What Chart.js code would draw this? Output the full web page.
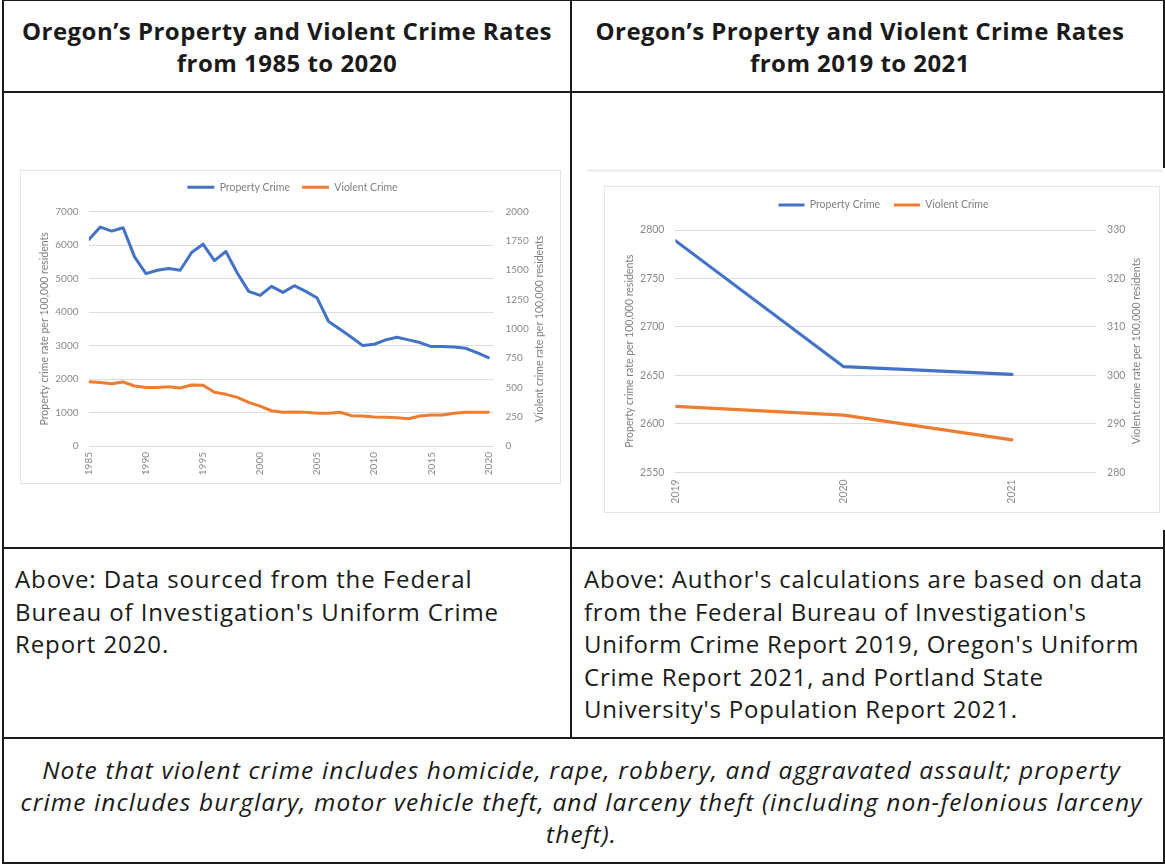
<!DOCTYPE html>
<html>
<head>
<meta charset="utf-8">
<script src="https://cdn.jsdelivr.net/npm/chart.js@4.4.1/dist/chart.umd.min.js"></script>
<style>
  html, body { margin: 0; padding: 0; background: #ffffff; }
  #page { position: relative; width: 1165px; height: 865px; overflow: hidden; background: #fff; }
  .ln { position: absolute; background: #1c1c1c; }
  .txt { position: absolute; color: #1a1a1a; font-family: "Open Sans", "Noto Sans", sans-serif; white-space: nowrap; }
  .hdr { font-weight: 700; font-size: 22px; line-height: 32px; text-align: center; }
  .cap { font-size: 22px; line-height: 32.5px; text-align: left; }
  .note { font-style: italic; font-size: 22px; line-height: 32px; text-align: center; }
  .frame { position: absolute; border: 1px solid #e4e4e4; box-sizing: border-box; background: #fff; }
  canvas { position: absolute; }
</style>
</head>
<body>
<div id="page">
  <!-- table grid -->
  <div class="ln" style="left:2px;top:0;width:1163px;height:1px;"></div>
  <div class="ln" style="left:2px;top:0;width:2px;height:864px;"></div>
  <div class="ln" style="left:1163px;top:0;width:2px;height:864px;"></div>
  <div class="ln" style="left:570px;top:0;width:2px;height:739px;"></div>
  <div class="ln" style="left:2px;top:91px;width:1163px;height:2px;"></div>
  <div class="ln" style="left:2px;top:547px;width:1163px;height:2px;"></div>
  <div class="ln" style="left:2px;top:737px;width:1163px;height:2px;"></div>
  <div class="ln" style="left:2px;top:862px;width:1163px;height:2px;"></div>

  <!-- headers -->
  <div class="txt hdr" id="h1" data-target="530" style="left:4px;width:566px;top:14.5px;"><span>Oregon’s Property and Violent Crime Rates</span><br><span>from 1985 to 2020</span></div>
  <div class="txt hdr" id="h2" data-target="529" style="left:572px;width:576px;top:14.5px;"><span>Oregon’s Property and Violent Crime Rates</span><br><span>from 2019 to 2021</span></div>

  <!-- chart images -->
  <div class="frame" style="left:20px;top:170px;width:541px;height:314px;"></div>
  <canvas id="c1" width="541" height="314" style="left:20px;top:170px;"></canvas>

  <div style="position:absolute;left:1160px;top:168px;width:5px;height:362px;background:#fff;"></div>
  <div style="position:absolute;left:587px;top:169px;width:576px;height:3px;background:#efefef;"></div>
  <div class="frame" style="left:604px;top:186px;width:556px;height:327px;"></div>
  <canvas id="c2" width="556" height="327" style="left:604px;top:186px;"></canvas>

  <!-- captions -->
  <div class="txt cap" id="cap1" data-target="484" style="left:15px;top:563px;"><span>Above: Data sourced from the Federal</span><br><span>Bureau of Investigation's Uniform Crime</span><br><span>Report 2020.</span></div>
  <div class="txt cap" id="cap2" data-target="559" style="left:584px;top:563px;"><span>Above: Author's calculations are based on data</span><br><span>from the Federal Bureau of Investigation's</span><br><span>Uniform Crime Report 2019, Oregon's Uniform</span><br><span>Crime Report 2021, and Portland State</span><br><span>University's Population Report 2021.</span></div>

  <!-- note -->
  <div class="txt note" id="note" data-target="1122" style="left:4px;width:1155px;top:754px;"><span>Note that violent crime includes homicide, rape, robbery, and aggravated assault; property</span><br><span>crime includes burglary, motor vehicle theft, and larceny theft (including non-felonious larceny</span><br><span>theft).</span></div>
</div>

<script>
// ---------------- data ----------------
const seriesNames = ['Property Crime', 'Violent Crime'];
const propertyAxisTitle = 'Property crime rate per 100,000 residents';
const violentAxisTitle = 'Violent crime rate per 100,000 residents';

// Chart 1: 1985 - 2020
const longYears = [1985, 1986, 1987, 1988, 1989, 1990, 1991, 1992, 1993, 1994,
                   1995, 1996, 1997, 1998, 1999, 2000, 2001, 2002, 2003, 2004,
                   2005, 2006, 2007, 2008, 2009, 2010, 2011, 2012, 2013, 2014,
                   2015, 2016, 2017, 2018, 2019, 2020];
const longProperty = [6170, 6540, 6420, 6520, 5650, 5150, 5250, 5300, 5250, 5780,
                      6030, 5540, 5810, 5170, 4620, 4500, 4770, 4590, 4790, 4620,
                      4420, 3720, 3490, 3250, 3000, 3040, 3170, 3250, 3170, 3090,
                      2970, 2970, 2960, 2920, 2790, 2640];
const longViolent = [549, 543, 532, 546, 512, 500, 500, 506, 495, 521,
                     518, 458, 441, 415, 373, 341, 301, 288, 290, 288,
                     279, 279, 288, 259, 256, 248, 245, 242, 233, 256,
                     265, 265, 279, 288, 288, 288];
const longYearTicks = [1985, 1990, 1995, 2000, 2005, 2010, 2015, 2020];
const longPropertyTicks = [0, 1000, 2000, 3000, 4000, 5000, 6000, 7000];
const longViolentTicks = [0, 250, 500, 750, 1000, 1250, 1500, 1750, 2000];

// Chart 2: 2019 - 2021
const shortYears = [2019, 2020, 2021];
const shortProperty = [2789, 2659, 2651];
const shortViolent = [293.6, 291.8, 286.7];
const shortYearTicks = [2019, 2020, 2021];
const shortPropertyTicks = [2550, 2600, 2650, 2700, 2750, 2800];
const shortViolentTicks = [280, 290, 300, 310, 320, 330];

// ---------------- styling ----------------
const BLUE = '#4472C4';
const ORANGE = '#ED7D31';
const FONT = 'Lato, "Open Sans", sans-serif';
const TICK_COLOR = '#8a8a8a';
const TITLE_COLOR = '#7f7f7f';
const GRID_COLOR = '#dddddd';

const rightTitlePlugin = {
  id: 'rightTitle',
  afterDraw(chart, args, opts) {
    const s = chart.scales.y2;
    const ctx = chart.ctx;
    ctx.save();
    ctx.font = opts.size + 'px ' + FONT;
    ctx.fillStyle = TITLE_COLOR;
    ctx.textAlign = 'center';
    ctx.textBaseline = 'middle';
    ctx.translate(s.left + opts.offset, (s.top + s.bottom) / 2);
    ctx.rotate(-Math.PI / 2);
    ctx.fillText(opts.text, 0, 0);
    ctx.restore();
  }
};

function toPoints(xs, ys) { return xs.map((x, i) => ({ x: x, y: ys[i] })); }
function fixedTicks(list) { return (s) => { s.ticks = list.map(v => ({ value: v })); }; }

function buildChart(id, d, g) {
  return new Chart(document.getElementById(id), {
    type: 'line',
    data: {
      datasets: [
        { label: seriesNames[0], data: toPoints(d.years, d.property), yAxisID: 'y',
          borderColor: BLUE, backgroundColor: BLUE, borderWidth: g.lw, pointRadius: 0, tension: 0,
          borderCapStyle: 'round', borderJoinStyle: 'round' },
        { label: seriesNames[1], data: toPoints(d.years, d.violent), yAxisID: 'y2',
          borderColor: ORANGE, backgroundColor: ORANGE, borderWidth: g.lw, pointRadius: 0, tension: 0,
          borderCapStyle: 'round', borderJoinStyle: 'round' }
      ]
    },
    options: {
      responsive: false, animation: false, devicePixelRatio: 1,
      layout: { padding: { left: g.pl, right: g.pr, top: 0, bottom: 0 } },
      plugins: {
        legend: {
          position: 'top', weight: 1000,
          labels: { usePointStyle: true, pointStyle: 'line', pointStyleWidth: g.legendLine,
                    padding: g.legendPad, color: TITLE_COLOR, font: { family: FONT, size: g.legendSize } }
        },
        // empty spacer box between the legend and the plot area
        title: { display: true, text: '', position: 'top', weight: 500, padding: 0,
                 font: { size: g.gap, lineHeight: 1 } },
        tooltip: { enabled: false },
        rightTitle: { text: violentAxisTitle, offset: g.rTitleOffset, size: g.titleSize }
      },
      scales: {
        x: {
          type: 'linear', bounds: 'data', min: d.xMin, max: g.xMax,
          afterBuildTicks: fixedTicks(d.xTicks),
          afterFit: (s) => { s.height = g.xHeight; },
          grid: { display: false, drawTicks: false }, border: { display: false },
          ticks: { autoSkip: false, minRotation: 90, maxRotation: 90, padding: g.xPad,
                   color: TICK_COLOR, font: { family: FONT, size: g.tickSize }, callback: (v) => String(v) }
        },
        y: {
          type: 'linear', position: 'left', bounds: 'data', min: d.yTicks[0], max: d.yTicks[d.yTicks.length - 1],
          afterBuildTicks: fixedTicks(d.yTicks),
          afterFit: (s) => { s.width = g.yWidth; },
          grid: { color: GRID_COLOR, lineWidth: 1, drawTicks: false }, border: { display: false },
          ticks: { padding: g.yPad, color: TICK_COLOR, font: { family: FONT, size: g.tickSize }, callback: (v) => String(v) },
          title: { display: true, text: propertyAxisTitle, color: TITLE_COLOR,
                   font: { family: FONT, size: g.titleSize }, padding: { top: g.lTitlePad, bottom: 0 } }
        },
        y2: {
          type: 'linear', position: 'right', bounds: 'data', min: d.y2Ticks[0], max: d.y2Ticks[d.y2Ticks.length - 1],
          afterBuildTicks: fixedTicks(d.y2Ticks),
          afterFit: (s) => { s.width = g.y2Width; },
          grid: { display: false, drawTicks: false }, border: { display: false },
          ticks: { padding: g.y2Pad, color: TICK_COLOR, font: { family: FONT, size: g.tickSize }, callback: (v) => String(v) }
        }
      }
    },
    plugins: [rightTitlePlugin]
  });
}

buildChart('c1',
  { years: longYears, property: longProperty, violent: longViolent, xMin: longYears[0],
    xTicks: longYearTicks, yTicks: longPropertyTicks, y2Ticks: longViolentTicks },
  { lw: 3, pl: 4, pr: 0, legendLine: 27, legendPad: 12, legendSize: 10.5, gap: 9.2,
    xMax: 2020.45, xHeight: 38, xPad: 6, tickSize: 10, yWidth: 64.9, y2Width: 67.5,
    yPad: 10.4, y2Pad: 12, titleSize: 10.5, lTitlePad: 14.5, rTitleOffset: 45.8 });

buildChart('c2',
  { years: shortYears, property: shortProperty, violent: shortViolent, xMin: shortYears[0],
    xTicks: shortYearTicks, yTicks: shortPropertyTicks, y2Ticks: shortViolentTicks },
  { lw: 3.2, pl: 3, pr: 0, legendLine: 26, legendPad: 13.75, legendSize: 10.5, gap: 9.75,
    xMax: 2021.5, xHeight: 40.7, xPad: 7, tickSize: 10.5, yWidth: 68.4, y2Width: 63.9,
    yPad: 11, y2Pad: 11, titleSize: 10.5, lTitlePad: 16.5, rTitleOffset: 40.7 });

// fit text blocks to the reference line widths: scale the font, then trim with letter spacing
function fitBlock(id, refIndex, maxSize) {
  const el = document.getElementById(id);
  const ref = el.querySelectorAll('span')[refIndex];
  const target = parseFloat(el.dataset.target);
  const cs = parseFloat(getComputedStyle(el).fontSize);
  let w = ref.getBoundingClientRect().width;
  const size = Math.min(maxSize, cs * target / w);
  el.style.fontSize = size + 'px';
  w = ref.getBoundingClientRect().width;
  el.style.letterSpacing = ((target - w) / ref.textContent.length) + 'px';
}
fitBlock('h1', 0, 24); fitBlock('h2', 0, 24);
fitBlock('cap1', 1, 24); fitBlock('cap2', 0, 24);
fitBlock('note', 1, 24.5);
</script>
</body>
</html>
